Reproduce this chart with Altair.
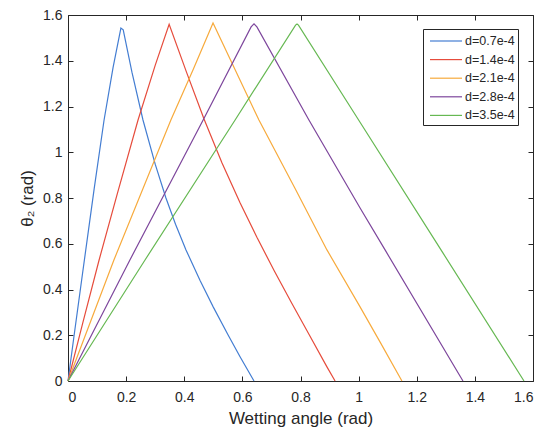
import altair as alt
import pandas as pd

# ---- data ----
names = ["d=0.7e-4", "d=1.4e-4", "d=2.1e-4", "d=2.8e-4", "d=3.5e-4"]
colors = ["#437dd2", "#e64c3c", "#f7aa3c", "#7d469c", "#66b852"]

x1 = [0, 0.02, 0.05, 0.09, 0.124, 0.155, 0.182, 0.19, 0.22, 0.258, 0.30,
      0.337, 0.37, 0.406, 0.454, 0.50, 0.55, 0.592, 0.64]
y1 = [0, 0.19, 0.47, 0.84, 1.14, 1.37, 1.543, 1.535, 1.35, 1.141, 0.948,
      0.80, 0.685, 0.573, 0.44, 0.323, 0.203, 0.106, 0]

x2 = [0, 0.05, 0.107, 0.17, 0.241, 0.30, 0.348, 0.408, 0.468, 0.53, 0.592,
      0.65, 0.71, 0.77, 0.83, 0.89, 0.919]
y2 = [0, 0.25, 0.529, 0.82, 1.141, 1.38, 1.559, 1.349, 1.145, 0.953, 0.779,
      0.628, 0.481, 0.340, 0.202, 0.064, 0]

x3 = [0, 0.158, 0.354, 0.43, 0.499, 0.657, 0.78, 0.891, 1.005, 1.074, 1.149]
y3 = [0, 0.529, 1.141, 1.36, 1.565, 1.141, 0.845, 0.573, 0.324, 0.170, 0]

x4 = [0, 0.213, 0.465, 0.63, 0.640, 0.65, 0.829, 1.005, 1.091, 1.359]
y4 = [0, 0.529, 1.141, 1.548, 1.561, 1.548, 1.141, 0.756, 0.573, 0]

x5 = [0, 0.265, 0.575, 0.783, 0.788, 0.793, 1.0, 1.29, 1.569]
y5 = [0, 0.529, 1.141, 1.556, 1.561, 1.556, 1.141, 0.56, 0]

x_ticks = [0, 0.2, 0.4, 0.6, 0.8, 1.0, 1.2, 1.4, 1.6]
y_ticks = [0, 0.2, 0.4, 0.6, 0.8, 1.0, 1.2, 1.4, 1.6]

rows = []
for name, xs, ys in zip(names, [x1, x2, x3, x4, x5], [y1, y2, y3, y4, y5]):
    for i, (xv, yv) in enumerate(zip(xs, ys)):
        rows.append({"name": name, "x": xv, "y": yv, "order": i})
df = pd.DataFrame(rows)

FONT = "Liberation Sans"
INK = "#262626"

xscale = alt.Scale(domain=[0, 1.6], nice=False, zero=False)
yscale = alt.Scale(domain=[0, 1.6], nice=False, zero=False)

common = dict(domain=False, grid=False, tickSize=5, offset=-5, tickColor=INK,
              tickWidth=1)

x_bottom = alt.Axis(orient="bottom", values=x_ticks, format=".1~f", labelFontSize=14,
                    labelFont=FONT, labelColor=INK, labelPadding=9,
                    title="Wetting angle (rad)", titleFont=FONT, titleFontSize=17,
                    titleFontWeight="normal", titleColor=INK, titlePadding=6,
                    **common)
y_left = alt.Axis(orient="left", values=y_ticks, format=".1~f", labelFontSize=14,
                  labelFont=FONT, labelColor=INK, labelPadding=6,
                  title="θ₂ (rad)", titleFont=FONT, titleFontSize=17,
                  titleFontWeight="normal", titleColor=INK, titlePadding=6,
                  **common)
x_top = alt.Axis(orient="top", values=x_ticks, labels=False, title=None, **common)
y_right = alt.Axis(orient="right", values=y_ticks, labels=False, title=None, **common)

legend = alt.Legend(orient="none", legendX=355, legendY=14, title=None,
                    symbolType="M-2,0H2", symbolSize=256, symbolStrokeWidth=1.2,
                    symbolOffset=11, labelOffset=10, labelFont=FONT,
                    labelFontSize=12.5, labelColor=INK, padding=3, rowPadding=2.6,
                    strokeColor=INK, fillColor="white")

lines = alt.Chart(df).mark_line(strokeWidth=1.2).encode(
    x=alt.X("x:Q", scale=xscale, axis=x_bottom),
    y=alt.Y("y:Q", scale=yscale, axis=y_left),
    color=alt.Color("name:N", scale=alt.Scale(domain=names, range=colors),
                    legend=legend),
    order="order:Q",
)

frame = alt.Chart(df).mark_point(opacity=0).encode(
    x=alt.X("x:Q", scale=xscale, axis=x_top),
    y=alt.Y("y:Q", scale=yscale, axis=y_right),
)

chart = alt.layer(lines, frame).properties(
    width=465, height=366,
    padding={"left": 68, "top": 15, "right": 10, "bottom": 46},
    autosize=alt.AutoSizeParams(type="none"),
    background="white",
).configure_view(stroke=INK, strokeWidth=1)

chart.save("out.html", embed_options={"renderer": "svg", "actions": False})
